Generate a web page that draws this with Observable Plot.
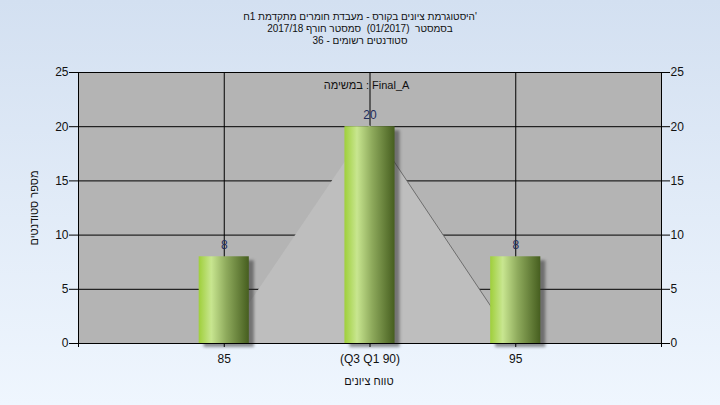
<!DOCTYPE html>
<html><head><meta charset="utf-8">
<script src="https://cdn.jsdelivr.net/npm/d3@7"></script>
<script src="https://cdn.jsdelivr.net/npm/@observablehq/plot@0.6"></script>
<style>
html,body{margin:0;padding:0;}
#wrap{width:720px;height:405px;background:linear-gradient(#d3e0f1,#eff6fe);position:relative;overflow:hidden;font-family:"Liberation Sans","DejaVu Sans",sans-serif;}
#title{height:56px;box-sizing:border-box;padding-top:11px;text-align:center;font-size:10px;line-height:12px;color:#111;}
#title .ln{white-space:pre;height:12px;}
#chart svg{display:block;}
</style></head><body>
<div id="wrap"><div id="title"></div><div id="chart"></div></div>
<script>
// ---- data ----
const titleLines = [
  "'היסטוגרמת ציונים בקורס - מעבדת חומרים מתקדמת 1ח",
  "בסמסטר  (01/2017)  סמסטר חורף 2017/18",
  "סטודנטים רשומים - 36"
];
const categories = [85, 90, 95];
const tickLabels = ["85", "(Q3 Q1 90)", "95"];
const counts = [8, 20, 8];
const curveX = [85, 90, 95];
const curveY = [0.25, 20.1, 0];
const yTicks = [0, 5, 10, 15, 20, 25];
const xTickAll = [80, 85, 90, 95, 100];
const legendText = "במשימה : Final_A";
const xTitle = "טווח ציונים";
const yTitle = "מספר סטודנטים";

// ---- title ----
const titleEl = document.getElementById("title");
titleLines.forEach(t => {
  const d = document.createElement("div");
  d.className = "ln"; d.dir = "rtl"; d.textContent = t;
  titleEl.appendChild(d);
});

// ---- chart ----
const data = categories.map((c, i) => ({x: c, label: tickLabels[i], n: counts[i]}));
const curve = curveX.map((x, i) => ({x, y: curveY[i]}));
const half = 0.86;
const labelFor = d => { const i = categories.indexOf(d); return i >= 0 ? tickLabels[i] : ""; };

function defsMark() {
  const defs = d3.create("svg:defs");
  const g = defs.append("linearGradient").attr("id", "barGrad")
    .attr("x1", "0").attr("x2", "1").attr("y1", "0").attr("y2", "0");
  [["0%", "#9fcf3b"], ["25%", "#c8e690"], ["55%", "#8eaa5c"], ["100%", "#465e1f"]]
    .forEach(([o, c]) => g.append("stop").attr("offset", o).attr("stop-color", c));
  return defs.node();
}

const font = '"Liberation Sans","DejaVu Sans",sans-serif';
const chart = Plot.plot({
  width: 720, height: 349,
  marginTop: 16, marginBottom: 62, marginLeft: 78, marginRight: 59,
  style: {background: "transparent", fontFamily: font, fontSize: "12px", color: "#000", overflow: "visible"},
  x: {type: "linear", domain: [80, 100], axis: null, label: null},
  y: {domain: [0, 25], axis: null, label: null},
  marks: [
    defsMark,
    Plot.frame({fill: "#b4b4b4", stroke: "none"}),
    Plot.ruleY(yTicks, {stroke: "#000"}),
    Plot.ruleX(categories, {stroke: "#000"}),
    Plot.areaY(curve, {x: "x", y: "y", fill: "#bebebe"}),
    Plot.line(curve.slice(1), {x: "x", y: "y", stroke: "#6e6e6e", strokeWidth: 1}),
    Plot.rect(data, {x1: d => d.x - half, x2: d => d.x + half, y1: 0, y2: "n", fill: "#2a2a2a", fillOpacity: 0.5, dx: 5, dy: 4, ariaDescription: "shadow"}),
    Plot.rect(data, {x1: d => d.x - half, x2: d => d.x + half, y1: 0, y2: "n", fill: "url(#barGrad)"}),
    Plot.ruleY([0], {stroke: "#000"}),
    Plot.ruleX([80, 100], {stroke: "#000"}),
    Plot.axisY({ticks: yTicks, anchor: "left", tickSize: 9, tickPadding: 1, fontSize: 12, label: null, fill: "#111"}),
    Plot.axisY({ticks: yTicks, anchor: "right", tickSize: 8, tickPadding: 1, fontSize: 12, label: null, fill: "#111"}),
    Plot.axisX({ticks: xTickAll, anchor: "bottom", tickSize: 4, tickPadding: 7, tickFormat: labelFor, fontSize: 12, label: null, fill: "#111"}),
    Plot.text(data, {x: "x", y: "n", text: d => String(d.n), dy: -12, fill: "#1f2d5c", fontSize: 12}),
    Plot.text([legendText], {frameAnchor: "top", lineAnchor: "middle", textAnchor: "middle", dy: 13, dx: -3.5, text: d => d, fill: "#111", fontSize: 11}),
    Plot.text([xTitle], {frameAnchor: "bottom", lineAnchor: "middle", textAnchor: "middle", dy: 38, dx: -1, text: d => d, fill: "#111", fontSize: 11}),
    Plot.text([yTitle], {frameAnchor: "left", lineAnchor: "middle", textAnchor: "middle", rotate: -90, dx: -44, text: d => d, fill: "#111", fontSize: 11})
  ]
});
document.getElementById("chart").appendChild(chart);
let sh = d3.select(chart).selectAll('[aria-description="shadow"]');
if (sh.empty()) sh = d3.select(d3.select(chart).selectAll('g[aria-label="rect"]').node());
sh.style("filter", "blur(1.5px)");
</script>
</body></html>
